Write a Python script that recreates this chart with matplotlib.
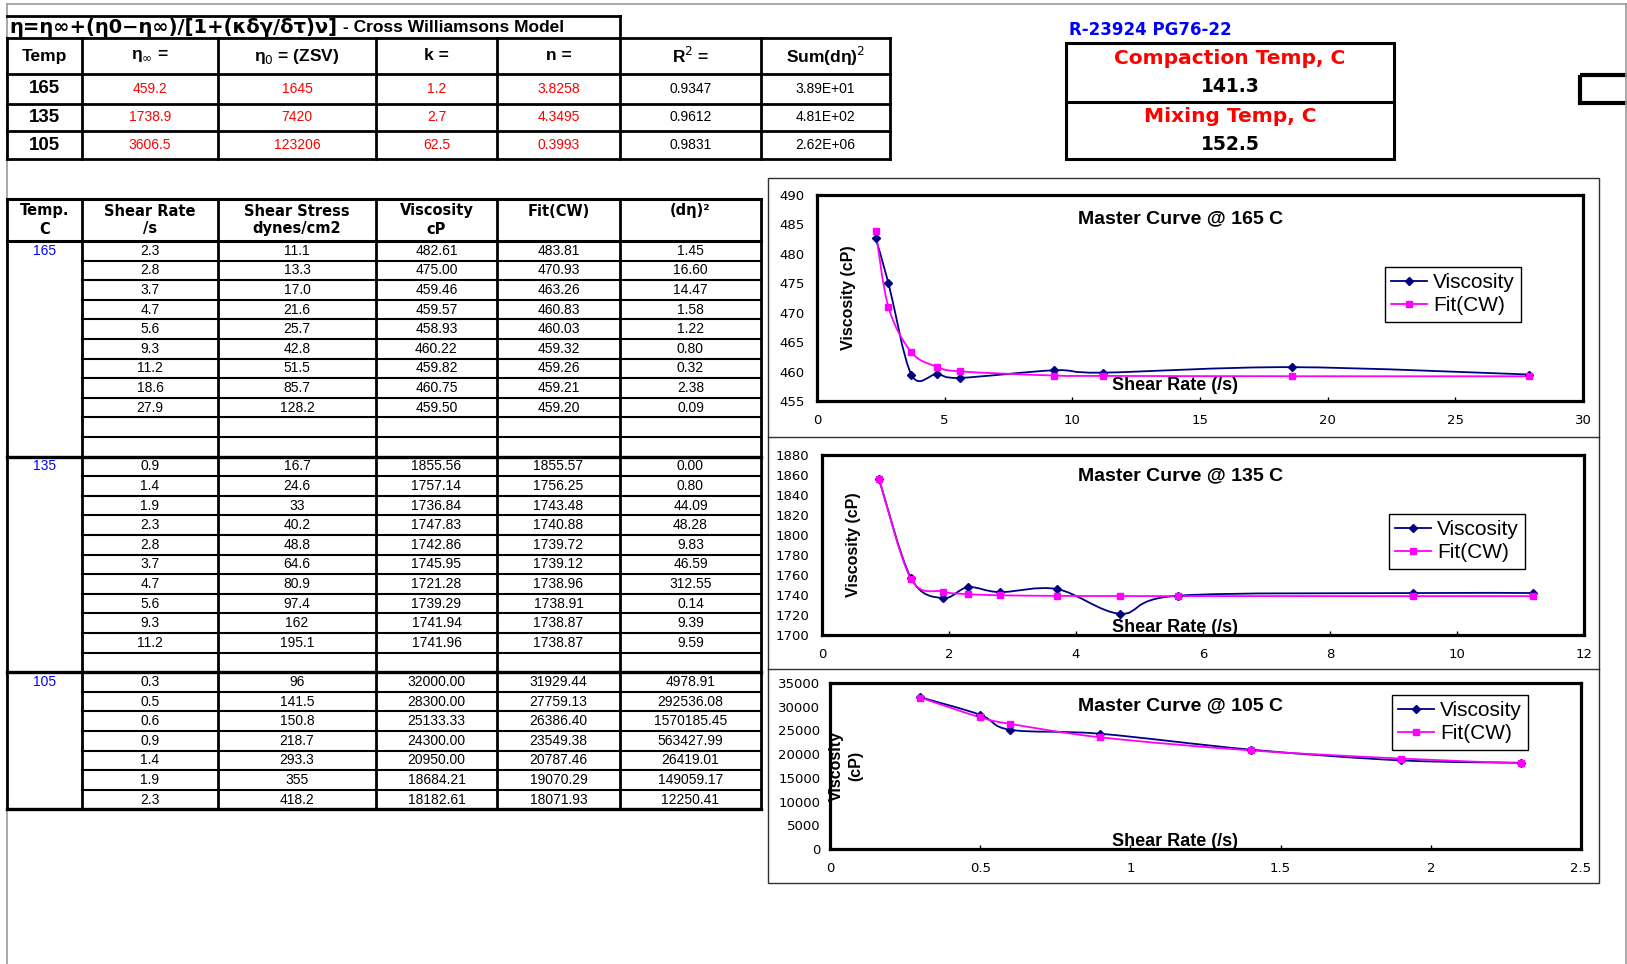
"""
Cross-Williamson viscosity fit sheet: parameter table, shear data table and master curves.
"""

import matplotlib
matplotlib.use("Agg")
import matplotlib.pyplot as plt
import numpy as np
from matplotlib.lines import Line2D
from matplotlib.patches import PathPatch, Rectangle
from matplotlib.path import Path

# ---- model parameters per test temperature ----
temps = [165, 135, 105]
eta_inf = [459.2, 1738.9, 3606.5]
eta_zero = [1645, 7420, 123206]
k_vals = [1.2, 2.7, 62.5]
n_vals = [3.8258, 4.3495, 0.3993]
r_squared = [0.9347, 0.9612, 0.9831]
sum_dsq = [3.89e1, 4.81e2, 2.62e6]

sample_id = "R-23924 PG76-22"
compaction_temp = 141.3
mixing_temp = 152.5

# ---- measured data ----
rate_165 = [2.3, 2.8, 3.7, 4.7, 5.6, 9.3, 11.2, 18.6, 27.9]
stress_165 = [11.1, 13.3, 17.0, 21.6, 25.7, 42.8, 51.5, 85.7, 128.2]
visc_165 = [482.61, 475.00, 459.46, 459.57, 458.93, 460.22, 459.82, 460.75, 459.50]
fit_165 = [483.81, 470.93, 463.26, 460.83, 460.03, 459.32, 459.26, 459.21, 459.20]
dsq_165 = [1.45, 16.60, 14.47, 1.58, 1.22, 0.80, 0.32, 2.38, 0.09]

rate_135 = [0.9, 1.4, 1.9, 2.3, 2.8, 3.7, 4.7, 5.6, 9.3, 11.2]
stress_135 = [16.7, 24.6, 33, 40.2, 48.8, 64.6, 80.9, 97.4, 162, 195.1]
visc_135 = [1855.56, 1757.14, 1736.84, 1747.83, 1742.86, 1745.95, 1721.28, 1739.29, 1741.94, 1741.96]
fit_135 = [1855.57, 1756.25, 1743.48, 1740.88, 1739.72, 1739.12, 1738.96, 1738.91, 1738.87, 1738.87]
dsq_135 = [0.00, 0.80, 44.09, 48.28, 9.83, 46.59, 312.55, 0.14, 9.39, 9.59]

rate_105 = [0.3, 0.5, 0.6, 0.9, 1.4, 1.9, 2.3]
stress_105 = [96, 141.5, 150.8, 218.7, 293.3, 355, 418.2]
visc_105 = [32000.00, 28300.00, 25133.33, 24300.00, 20950.00, 18684.21, 18182.61]
fit_105 = [31929.44, 27759.13, 26386.40, 23549.38, 20787.46, 19070.29, 18071.93]
dsq_105 = [4978.91, 292536.08, 1570185.45, 563427.99, 26419.01, 149059.17, 12250.41]

W, H = 1627, 964
SANS = "Liberation Sans"
WIDE = "DejaVu Sans"
NAVY = "#000080"
MAGENTA = "#FF00FF"
RED = "#FF0000"
BLUE = "#0000FF"

fig = plt.figure(figsize=(W / 100, H / 100), dpi=100)
base = fig.add_axes([0, 0, 1, 1])
base.set_xlim(0, W)
base.set_ylim(H, 0)
base.axis("off")


def hline(y, x0, x1, lw=1.5, color="black"):
    base.plot([x0, x1], [y, y], color=color, lw=lw, solid_capstyle="projecting")


def vline(x, y0, y1, lw=1.5, color="black"):
    base.plot([x, x], [y0, y1], color=color, lw=lw, solid_capstyle="projecting")


def cell_text(x, y, s, size=10, color="black", weight="normal", family=SANS, ha="center"):
    base.text(x, y, s, fontsize=size, color=color, fontweight=weight, family=family,
              ha=ha, va="center")


# sheet edge
vline(7, 4, H, lw=1.2, color="#9a9a9a")
hline(4, 7, 1626, lw=1.2, color="#9a9a9a")
vline(1626, 4, H, lw=1.2, color="#9a9a9a")

# ---- parameter table ----
top_cols = [7, 82, 218, 376, 497, 620, 761, 890]
top_rows = [74, 103.5, 131, 159]
hline(16, 7, 620, lw=2)
vline(620, 16, 38, lw=2)
hline(38, 7, 890, lw=2)
for y in top_rows:
    hline(y, 7, 890, lw=2)
for x in top_cols:
    vline(x, 38, top_rows[-1], lw=2)
base.text(9, 27.5, "η=η∞+(η0−η∞)/[1+(κδγ/δτ)ν]", fontsize=14, fontweight="bold",
          family=WIDE, ha="left", va="center")
base.text(343, 27.5, "- Cross Williamsons Model", fontsize=12.5, fontweight="bold",
          family=SANS, ha="left", va="center")

top_headers = ["Temp", r"η$_\infty$ =", r"η$_0$ = (ZSV)", "k =", "n =", "R$^2$ =", "Sum(dη)$^2$"]
head_y = (38 + top_rows[0]) / 2
for i, label in enumerate(top_headers):
    cx = (top_cols[i] + top_cols[i + 1]) / 2
    cell_text(cx, head_y, label, size=12.5, weight="bold")

for r, t in enumerate(temps):
    cy = (top_rows[r] + top_rows[r + 1]) / 2
    values = [
        (f"{eta_inf[r]:.1f}", RED), (f"{eta_zero[r]:d}", RED), (f"{k_vals[r]:.1f}", RED),
        (f"{n_vals[r]:.4f}", RED), (f"{r_squared[r]:.4f}", "black"), (f"{sum_dsq[r]:.2E}", "black"),
    ]
    cell_text((top_cols[0] + top_cols[1]) / 2, cy, str(t), size=13.5, weight="bold")
    for c, (s, col) in enumerate(values):
        cell_text((top_cols[c + 1] + top_cols[c + 2]) / 2, cy, s, size=10, color=col)

# ---- compaction / mixing box ----
base.text(1069, 30, sample_id, fontsize=12, fontweight="bold", family=WIDE, color=BLUE,
          ha="left", va="center")
base.add_patch(Rectangle((1066, 43), 328, 116, fill=False, lw=2.2, edgecolor="black"))
hline(101.5, 1066, 1394, lw=2.2)
cell_text(1230, 59, "Compaction Temp, C", size=14.5, weight="bold", color=RED, family=WIDE)
cell_text(1230, 87, f"{compaction_temp:.1f}", size=13.5, weight="bold", family=WIDE)
cell_text(1230, 117, "Mixing Temp, C", size=14.5, weight="bold", color=RED, family=WIDE)
cell_text(1230, 144, f"{mixing_temp:.1f}", size=13.5, weight="bold", family=WIDE)
base.add_patch(Rectangle((1580, 75), 60, 28, fill=False, lw=3, edgecolor="black"))

# ---- shear data table ----
cols = [7, 82, 218, 376, 497, 620, 761]
head_top, head_bot, row_h = 199, 241, 19.6
sections = [
    (165, rate_165, stress_165, visc_165, fit_165, dsq_165, 11, "{:.1f}"),
    (135, rate_135, stress_135, visc_135, fit_135, dsq_135, 11, "{:g}"),
    (105, rate_105, stress_105, visc_105, fit_105, dsq_105, 7, "{:g}"),
]
head1 = ["Temp.", "Shear Rate", "Shear Stress", "Viscosity", "Fit(CW)", "(dη)²"]
head2 = ["C", "/s", "dynes/cm2", "cP", "", ""]
for i in range(6):
    cx = (cols[i] + cols[i + 1]) / 2
    cell_text(cx, 211, head1[i], size=10.5, weight="bold", family=WIDE)
    cell_text(cx, 229, head2[i], size=10.5, weight="bold", family=WIDE)

hline(head_top, 7, 761, lw=2.2)
hline(head_bot, 7, 761, lw=2.2)
y = head_bot
for temp, rate, stress, visc, fit, dsq, nrows, sfmt in sections:
    cell_text((cols[0] + cols[1]) / 2, y + row_h / 2, str(temp), size=10, color=BLUE)
    for r in range(nrows):
        cy = y + row_h * (r + 0.5)
        if r < len(rate):
            row = [f"{rate[r]:.1f}", sfmt.format(stress[r]), f"{visc[r]:.2f}",
                   f"{fit[r]:.2f}", f"{dsq[r]:.2f}"]
            for c, s in enumerate(row):
                cell_text((cols[c + 1] + cols[c + 2]) / 2, cy, s, size=10)
        if r < nrows - 1:
            hline(y + row_h * (r + 1), 82, 761, lw=1.5)
    y += row_h * nrows
    hline(y, 7, 761, lw=2.4)
for x in cols:
    vline(x, head_top, y, lw=2)

# ---- master curve charts ----
base.add_patch(Rectangle((768, 178), 831, 705, fill=False, lw=1, edgecolor="#303030"))
hline(437, 768, 1599, lw=1, color="#303030")
hline(669, 768, 1599, lw=1, color="#303030")


def smooth_path(x, y):
    # Bezier segments through every point, tangents from neighbouring points
    pts = np.column_stack([x, y]).astype(float)
    n = len(pts)
    verts, codes = [pts[0]], [Path.MOVETO]
    for i in range(n - 1):
        p0 = pts[i - 1] if i > 0 else pts[i]
        p1, p2 = pts[i], pts[i + 1]
        p3 = pts[i + 2] if i + 2 < n else pts[i + 1]
        verts += [p1 + (p2 - p0) / 6, p2 - (p3 - p1) / 6, p2]
        codes += [Path.CURVE4] * 3
    return Path(verts, codes)


charts = [
    dict(temp=165, x=rate_165, v=visc_165, f=fit_165, box=(817, 195, 1583, 401),
         xlim=(0, 30), xticks=[0, 5, 10, 15, 20, 25, 30], ylim=(455, 490),
         yticks=[455, 460, 465, 470, 475, 480, 485, 490], title_y=219,
         ylab_x=849, ylab="Viscosity (cP)", xlab_y=386, leg=(1385, 267), ypad=9),
    dict(temp=135, x=rate_135, v=visc_135, f=fit_135, box=(822, 455, 1584, 635),
         xlim=(0, 12), xticks=[0, 2, 4, 6, 8, 10, 12], ylim=(1700, 1880),
         yticks=list(range(1700, 1881, 20)), title_y=476,
         ylab_x=854, ylab="Viscosity (cP)", xlab_y=627, leg=(1389, 514), ypad=9),
    dict(temp=105, x=rate_105, v=visc_105, f=fit_105, box=(830, 683, 1581, 849),
         xlim=(0, 2.5), xticks=[0, 0.5, 1, 1.5, 2, 2.5], ylim=(0, 35000),
         yticks=list(range(0, 35001, 5000)), title_y=706,
         ylab_x=846, ylab="Viscosity\n(cP)", xlab_y=842, leg=(1392, 695), ypad=7),
]

for ch in charts:
    x0, y0, x1, y1 = ch["box"]
    ax = fig.add_axes([x0 / W, 1 - y1 / H, (x1 - x0) / W, (y1 - y0) / H])
    ax.add_patch(PathPatch(smooth_path(ch["x"], ch["v"]), fill=False, edgecolor=NAVY, lw=1.3))
    ax.add_patch(PathPatch(smooth_path(ch["x"], ch["f"]), fill=False, edgecolor=MAGENTA, lw=1.3))
    ax.plot(ch["x"], ch["v"], ls="none", marker="D", ms=4.2, color=NAVY)
    ax.plot(ch["x"], ch["f"], ls="none", marker="s", ms=4.6, color=MAGENTA)
    ax.set_xlim(*ch["xlim"])
    ax.set_ylim(*ch["ylim"])
    ax.set_xticks(ch["xticks"])
    ax.set_xticklabels([f"{t:g}" for t in ch["xticks"]])
    ax.set_yticks(ch["yticks"])
    ax.tick_params(axis="x", direction="in", length=3, width=1, pad=9, labelsize=9.5)
    ax.tick_params(axis="y", length=0, pad=ch["ypad"], labelsize=9.5)
    for lab in ax.get_xticklabels() + ax.get_yticklabels():
        lab.set_family(WIDE)
    for sp in ax.spines.values():
        sp.set_linewidth(2.3)
        sp.set_color("black")

    base.text(1181, ch["title_y"], f"Master Curve @ {ch['temp']} C", fontsize=14,
              fontweight="bold", family=SANS, ha="center", va="center", zorder=5)
    base.text(ch["ylab_x"], (y0 + y1) / 2, ch["ylab"], fontsize=11.5, fontweight="bold",
              family=SANS, rotation=90, ha="center", va="center", zorder=5,
              linespacing=1.3)
    base.text(1175, ch["xlab_y"], "Shear Rate (/s)", fontsize=13, fontweight="bold",
              family=SANS, ha="center", va="center", zorder=5)

    handles = [
        Line2D([], [], color=NAVY, lw=1.3, marker="D", ms=4.2),
        Line2D([], [], color=MAGENTA, lw=1.3, marker="s", ms=4.6),
    ]
    lx, ly = ch["leg"]
    leg = ax.legend(handles, ["Viscosity", "Fit(CW)"], loc="upper left",
                    bbox_to_anchor=(lx / W, 1 - ly / H), bbox_transform=fig.transFigure,
                    borderaxespad=0, fancybox=False, framealpha=1, edgecolor="black",
                    handlelength=1.7, handletextpad=0.3, labelspacing=0.2,
                    borderpad=0.3, prop={"family": SANS, "size": 15})
    leg.get_frame().set_linewidth(1)

# keep the overlay text above the chart axes
base.set_zorder(3)
base.patch.set_visible(False)

fig.savefig("out.png", dpi=100)
